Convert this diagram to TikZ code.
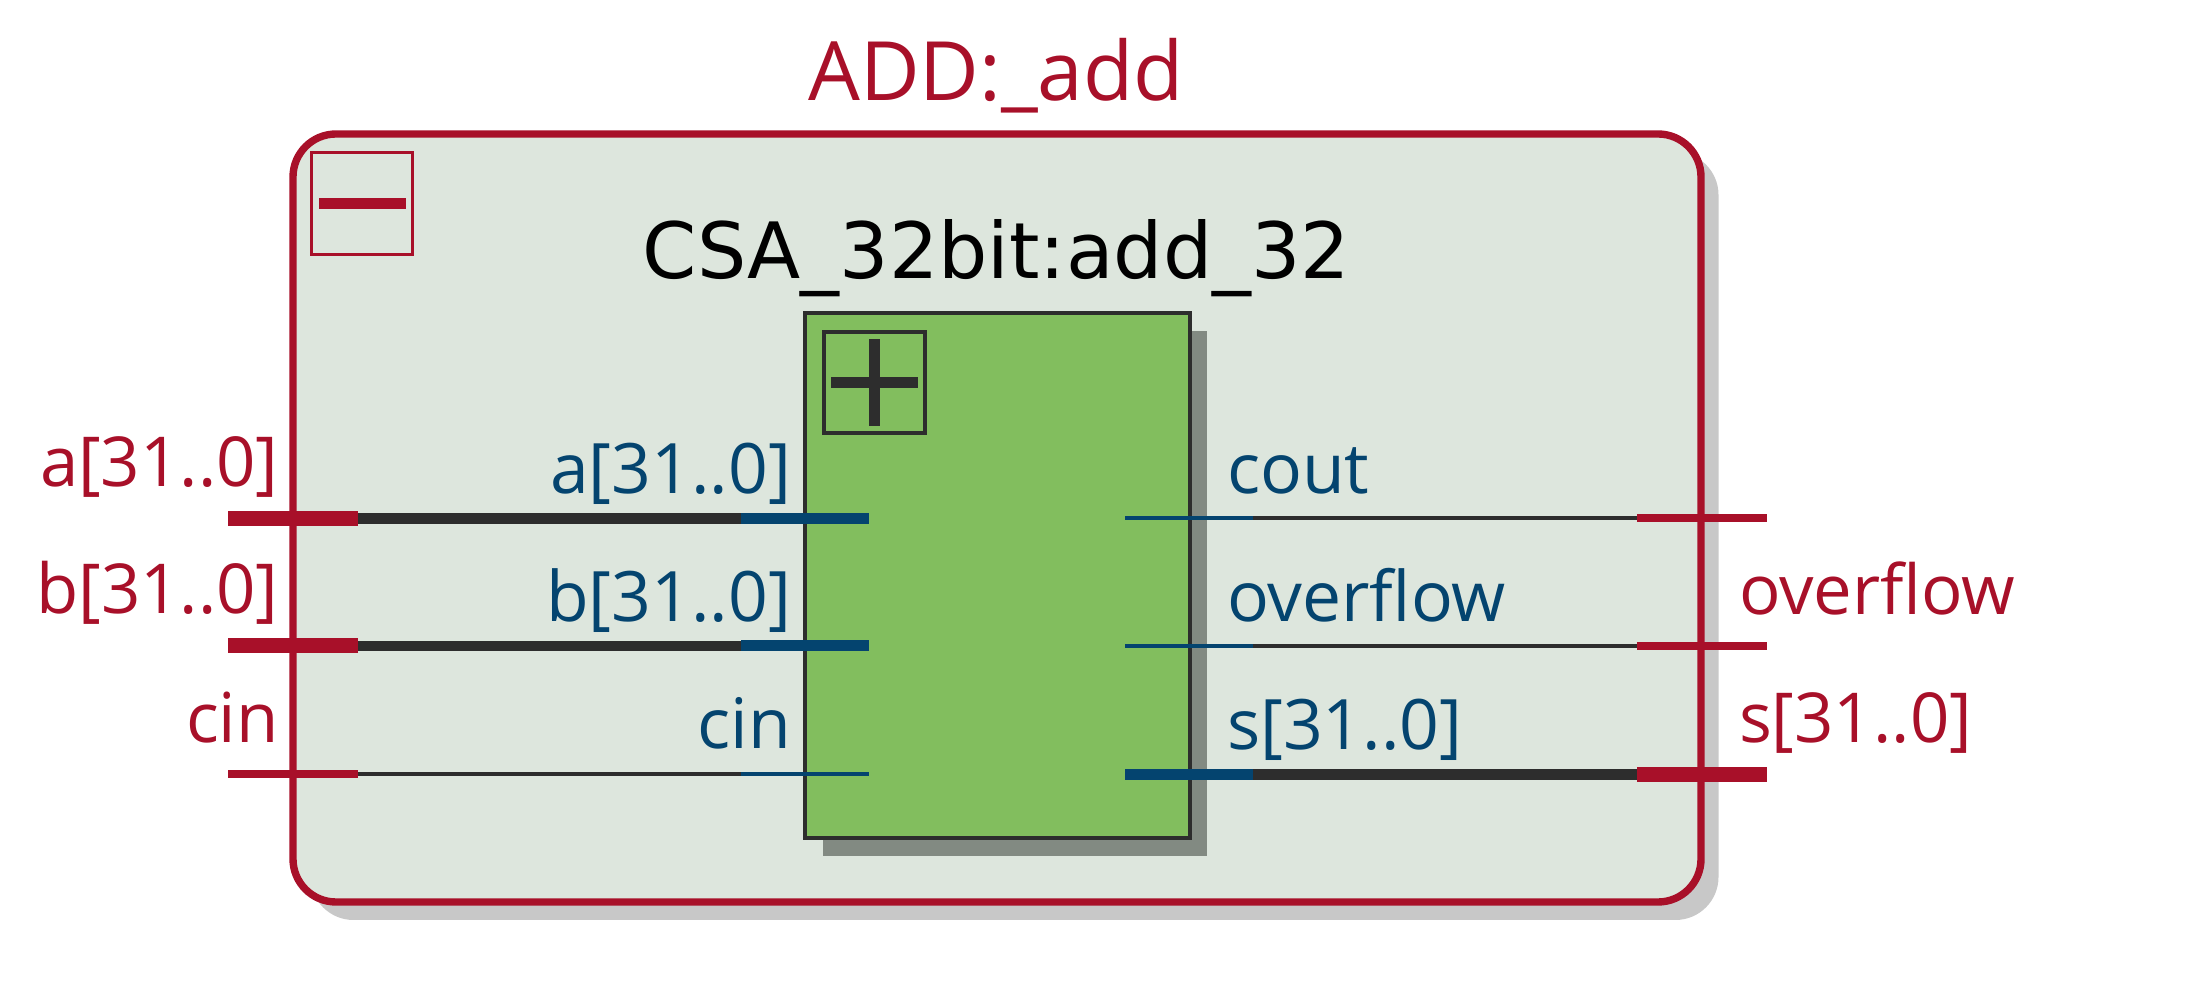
\documentclass[tikz,border=0pt]{standalone}
\usepackage{fontspec}
\setmainfont{Open Sans}
\newfontfamily\titlefont{DejaVu Sans}
\definecolor{pinred}{HTML}{A81029}
\definecolor{portblue}{HTML}{04446F}
\definecolor{wiredark}{HTML}{2D2D2D}
\definecolor{boxgreen}{HTML}{82BE5E}
\definecolor{hierfill}{HTML}{DDE6DD}
\definecolor{hiergray}{HTML}{C8C8C8}
\definecolor{blockgray}{HTML}{828A82}
\begin{document}
\begin{tikzpicture}[
  every node/.style={inner sep=0pt,outer sep=0pt},
  hier/.style={draw=pinred,line width=2.1pt,fill=hierfill,rounded corners=4.3mm,
    minimum width=140.8mm,minimum height=76.8mm},
  hiershadow/.style={fill=hiergray,rounded corners=4.3mm,
    minimum width=140.8mm,minimum height=76.8mm},
  block/.style={draw=wiredark,line width=1.1pt,fill=boxgreen,
    minimum width=38.45mm,minimum height=52.5mm},
  blockshadow/.style={fill=blockgray,
    minimum width=38.45mm,minimum height=52.5mm},
  toggle/.style={draw,line width=1pt,minimum width=10.1mm,minimum height=10.1mm},
  pinbus/.style={fill=pinred,minimum width=13mm,minimum height=1.5mm},
  pinbit/.style={fill=pinred,minimum width=13mm,minimum height=.8mm},
  portbus/.style={fill=portblue,minimum width=12.8mm,minimum height=1.1mm},
  portbit/.style={fill=portblue,minimum width=12.8mm,minimum height=.4mm},
  wirebus/.style={draw=wiredark,line width=3.1pt},
  wirebit/.style={draw=wiredark,line width=1.1pt},
  pinlabel/.style={text=pinred,font=\fontsize{19.6}{23}\selectfont},
  portlabel/.style={text=portblue,font=\fontsize{19.8}{23}\selectfont}]
\useasboundingbox (0,0) rectangle (22.09,9.82);

\node[hiershadow] (add_shadow) at (10.145,4.46) {};
\node[hier] (add) at (9.97,4.64) {};
\node[pinlabel,font=\fontsize{23.3}{27}\selectfont,anchor=base] (add_name) at (9.96,8.81) {ADD:\_add};
\node[toggle,draw=pinred,line width=.9pt,minimum height=10.15mm] (collapse) at (3.622,7.785) {};
\node[fill=pinred,minimum width=8.7mm,minimum height=1.1mm] (collapse_bar) at (collapse.center) {};

\node[anchor=base,font=\titlefont\fontsize{22.1}{26}\selectfont] (csa_name) at (9.965,7.03) {CSA\_32bit:add\_32};
\node[blockshadow] (csa_shadow) at (10.15,3.885) {};
\node[block] (csa) at (9.973,4.065) {};
\node[toggle,draw=wiredark] (expand) at (8.745,5.995) {};
\node[fill=wiredark,minimum width=8.7mm,minimum height=1.1mm] (expand_h) at (expand.center) {};
\node[fill=wiredark,minimum width=1.1mm,minimum height=8.7mm] (expand_v) at (expand.center) {};

\node[portbus] (port_a) at (8.05,4.635) {};
\node[portbus] (port_b) at (8.05,3.36) {};
\node[portbit] (port_cin) at (8.05,2.08) {};
\node[portbit] (port_cout) at (11.89,4.64) {};
\node[portbit] (port_overflow) at (11.89,3.36) {};
\node[portbus] (port_s) at (11.89,2.075) {};

\node[pinbus] (pin_a) at (2.93,4.635) {};
\node[pinbus] (pin_b) at (2.93,3.36) {};
\node[pinbit] (pin_cin) at (2.93,2.08) {};
\node[pinbit] (pin_cout) at (17.015,4.64) {};
\node[pinbit] (pin_overflow) at (17.015,3.36) {};
\node[pinbus] (pin_s) at (17.015,2.075) {};

\draw[wirebus] (pin_a.east)--(port_a.west);
\draw[wirebus] (pin_b.east)--(port_b.west);
\draw[wirebit] (pin_cin.east)--(port_cin.west);
\draw[wirebit] (port_cout.east)--(pin_cout.west);
\draw[wirebit] (port_overflow.east)--(pin_overflow.west);
\draw[wirebus] (port_s.east)--(pin_s.west);

\node[pinlabel,anchor=base east] (pin_a_name) at (2.785,4.95) {a[31..0]};
\node[pinlabel,anchor=base east] (pin_b_name) at (2.785,3.68) {b[31..0]};
\node[pinlabel,anchor=base east] (pin_cin_name) at (2.785,2.39) {cin};
\node[pinlabel,anchor=base west] (pin_overflow_name) at (17.39,3.67) {overflow};
\node[pinlabel,anchor=base west] (pin_s_name) at (17.39,2.39) {s[31..0]};

\node[portlabel,anchor=base east] (port_a_name) at (7.91,4.88) {a[31..0]};
\node[portlabel,anchor=base east] (port_b_name) at (7.91,3.6) {b[31..0]};
\node[portlabel,anchor=base east] (port_cin_name) at (7.91,2.33) {cin};
\node[portlabel,anchor=base west] (port_cout_name) at (12.27,4.88) {cout};
\node[portlabel,anchor=base west] (port_overflow_name) at (12.27,3.6) {overflow};
\node[portlabel,anchor=base west] (port_s_name) at (12.27,2.32) {s[31..0]};
\end{tikzpicture}
\end{document}
